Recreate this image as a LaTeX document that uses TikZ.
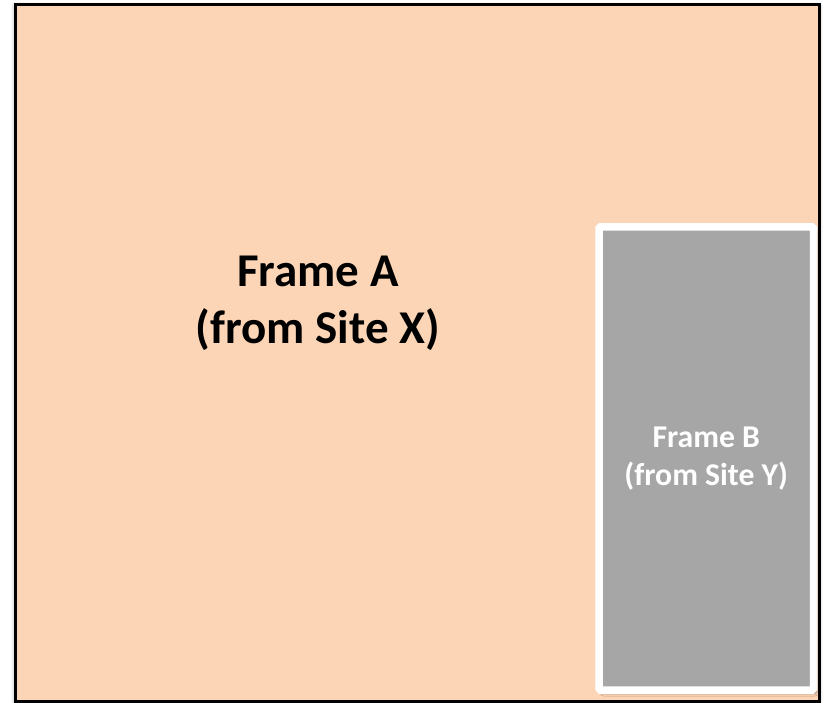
\documentclass[tikz,border=0pt]{standalone}
\usepackage{fontspec}
\setmainfont{Carlito}
\usetikzlibrary{shadows.blur}
\definecolor{peach}{HTML}{FBD5B5}
\definecolor{framegray}{HTML}{A6A6A6}

\begin{document}
\begin{tikzpicture}[x=1pt,y=-1pt]
\tikzset{outerframe/.style={draw=black,line width=3pt,fill=peach,inner sep=0pt,
    blur shadow={shadow xshift=0pt,shadow yshift=-1pt,shadow blur radius=4pt,shadow opacity=40}},
  insetframe/.style={draw=white,line width=7.5pt,fill=framegray,rounded corners=1.5pt,inner sep=0pt,
    align=center,text=white,font=\bfseries\fontsize{31.7}{38.7}\selectfont,
    blur shadow={shadow xshift=3pt,shadow yshift=-3pt,shadow blur radius=3pt,shadow opacity=45}}}
\useasboundingbox (0,0) rectangle (827,703);
\node[outerframe,minimum width=804pt,minimum height=696pt] (frameA) at (417,353) {};
\node[align=center,font=\bfseries\fontsize{47}{57}\selectfont] (labelA) at (318,303) {Frame A\\(from Site X)};
\node[insetframe,minimum width=214.5pt,minimum height=463pt] (frameB) at (706.25,458.5) {Frame B\\(from Site Y)};

%\node (labelB) at (frameB.center) {};
\end{tikzpicture}
\end{document}
